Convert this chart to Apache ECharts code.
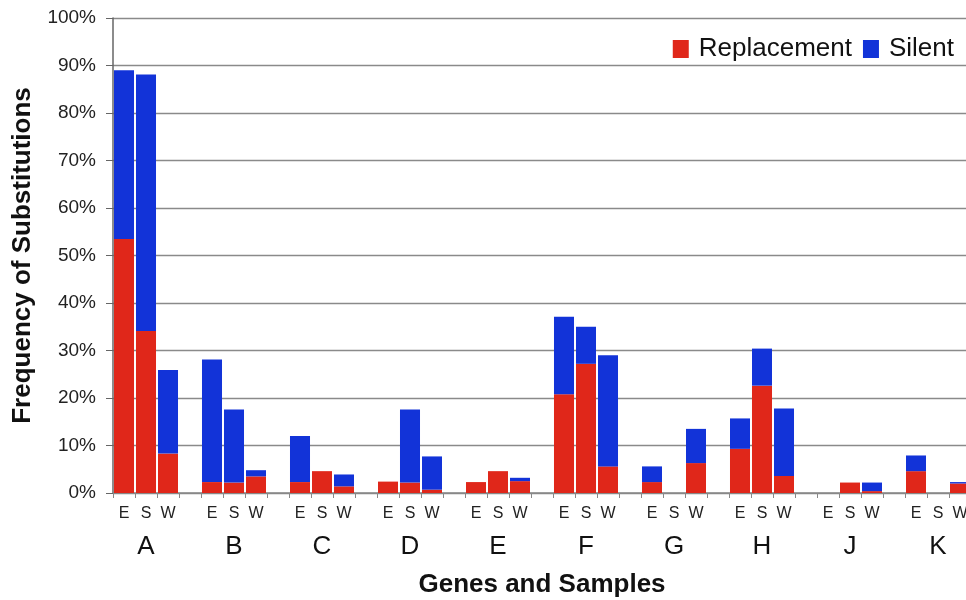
<!DOCTYPE html>
<html><head><meta charset="utf-8">
<script src="https://cdn.jsdelivr.net/npm/echarts@6/dist/echarts.min.js"></script>
<style>html,body{margin:0;padding:0;background:#fff}#c{width:966px;height:600px}</style>
</head><body><div id="c"></div>
<script>
const genes = ['A','B','C','D','E','F','G','H','J','K'];
const samples = ['E','S','W'];
const yTicks = [0,10,20,30,40,50,60,70,80,90,100];
// values per gene, in sample order E,S,W (percent)
const replacement = [
  53.5, 34.1, 8.3,
  2.3, 2.2, 3.5,
  2.3, 4.6, 1.4,
  2.4, 2.2, 0.7,
  2.3, 4.6, 2.5,
  20.8, 27.2, 5.6,
  2.3, 0, 6.3,
  9.3, 22.6, 3.6,
  0, 2.2, 0.4,
  4.6, 0, 2.0
];
const silent = [
  35.5, 54.0, 17.6,
  25.8, 15.4, 1.3,
  9.7, 0, 2.5,
  0, 15.4, 7.0,
  0, 0, 0.7,
  16.3, 7.8, 23.4,
  3.3, 0, 7.2,
  6.4, 7.8, 14.2,
  0, 0, 1.8,
  3.3, 0, 0.3
];

// build category slots with a gap between genes
const cats = [], sampleLbl = [], geneLbl = [], repData = [], silData = [];
genes.forEach((g, gi) => {
  samples.forEach((s, si) => {
    const k = gi * samples.length + si;
    cats.push(g + '-' + s);
    sampleLbl.push(s);
    geneLbl.push(si === 1 ? g : '');
    repData.push(replacement[k]);
    silData.push(silent[k]);
  });
  if (gi < genes.length - 1) {
    cats.push('gap' + gi);
    sampleLbl.push(''); geneLbl.push('');
    repData.push(null); silData.push(null);
  }
});

const FONT = 'Liberation Sans, Arial, sans-serif';
const chart = echarts.init(document.getElementById('c'), null, {renderer:'canvas'});
chart.setOption({
  animation: false,
  textStyle: {fontFamily: FONT},
  grid: {left: 113, top: 18, width: 858, height: 475, containLabel: false, outerBoundsMode: 'none'},
  legend: {
    right: 8, top: 34, itemWidth: 16, itemHeight: 18, itemGap: 11,
    icon: 'rect',
    backgroundColor: '#fff',
    padding: [2, 4, 2, 4],
    textStyle: {fontSize: 26, color: '#111', fontFamily: FONT, padding: [0, 0, 0, 5]},
    data: ['Replacement', 'Silent']
  },
  xAxis: [{
    type: 'category', data: cats, position: 'bottom',
    axisLine: {lineStyle: {color: '#888', width: 1.5}},
    axisTick: {show: true, length: 5, lineStyle: {color: '#888'}},
    axisLabel: {interval: 0, fontSize: 16, color: '#222', margin: 13,
      formatter: (v, i) => sampleLbl[i]}
  }, {
    type: 'category', data: cats, position: 'bottom',
    axisLine: {show: false}, axisTick: {show: false},
    axisLabel: {interval: 0, fontSize: 26, color: '#111', margin: 41,
      formatter: (v, i) => geneLbl[i]},
    name: 'Genes and Samples', nameLocation: 'middle', nameGap: 79,
    nameTextStyle: {fontSize: 26, fontWeight: 'bold', color: '#111'}
  }],
  yAxis: {
    type: 'value', min: 0, max: 100, interval: 10,
    axisLine: {show: true, lineStyle: {color: '#666', width: 1.5}},
    axisTick: {show: true, length: 7, lineStyle: {color: '#666'}},
    splitLine: {lineStyle: {color: '#8a8a8a', width: 1.3}},
    axisLabel: {fontSize: 19, color: '#222', margin: 17,
      formatter: v => yTicks.includes(v) ? v + '%' : ''},
    name: 'Frequency of Substitutions', nameLocation: 'middle', nameGap: 77,
    nameTextStyle: {fontSize: 26, fontWeight: 'bold', color: '#111'}
  },
  series: [{
    name: 'Replacement', type: 'bar', stack: 'total', data: repData,
    barCategoryGap: '9%', itemStyle: {color: '#e0271a'}
  }, {
    name: 'Silent', type: 'bar', stack: 'total', data: silData,
    barCategoryGap: '9%', itemStyle: {color: '#1233d8'}
  }]
});
</script></body></html>
